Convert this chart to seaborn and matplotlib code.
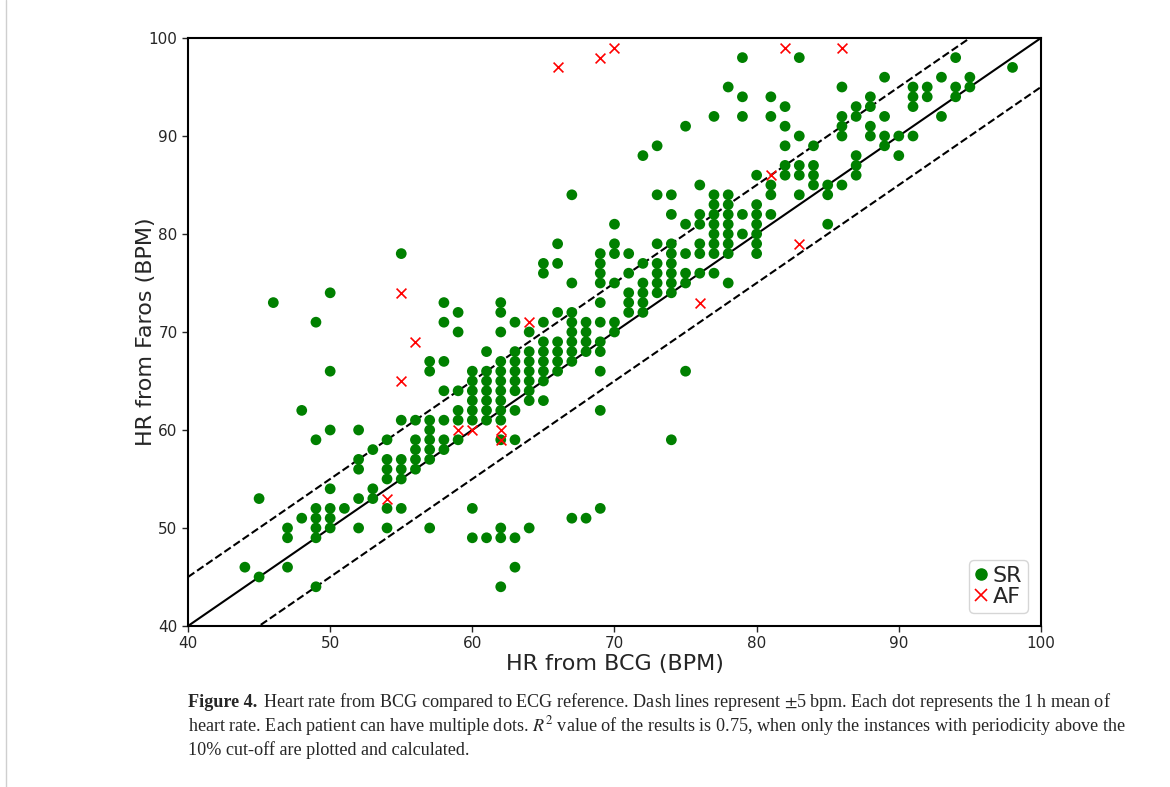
import numpy as np
import pandas as pd
import matplotlib
matplotlib.use("Agg")
import matplotlib.pyplot as plt
from matplotlib.lines import Line2D
import seaborn as sns

## HR: BCG value (x) and the Faros values found at that x
sr_bcg = [44, 45, 46, 47, 48, 49, 50, 51, 52, 53, 54, 55, 56, 57, 58, 59, 60, 61,
          62, 63, 64, 65, 66, 67, 68, 69, 70, 71, 72, 73, 74, 75, 76, 77, 78, 79,
          80, 81, 82, 83, 84, 85, 86, 87, 88, 89, 90, 91, 92, 93, 94, 95, 98]
sr_faros = [[46], [53, 45], [73], [50, 49, 46], [62, 51],
            [71, 59, 52, 51, 50, 49, 44], [74, 66, 60, 54, 52, 51, 50], [52],
            [60, 57, 56, 53, 50], [58, 54, 53], [59, 57, 56, 55, 52, 50],
            [78, 61, 57, 56, 55, 52], [61, 59, 58, 57, 56],
            [67, 66, 61, 60, 59, 58, 57, 50], [73, 71, 67, 64, 61, 59, 58],
            [72, 70, 64, 62, 61, 59], [66, 65, 64, 63, 62, 61, 52, 49],
            [68, 66, 65, 64, 63, 62, 61, 49],
            [73, 72, 70, 67, 66, 65, 64, 63, 62, 61, 59, 50, 49, 44],
            [71, 68, 67, 66, 65, 64, 62, 59, 49, 46],
            [70, 68, 67, 66, 65, 64, 63, 50],
            [77, 76, 71, 69, 68, 67, 66, 65, 63],
            [79, 77, 72, 69, 68, 67, 66],
            [84, 75, 72, 71, 70, 69, 68, 67, 51],
            [71, 70, 69, 68, 51],
            [78, 77, 76, 75, 73, 71, 69, 68, 66, 62, 52],
            [81, 79, 78, 75, 71, 70], [78, 76, 74, 73, 72],
            [88, 77, 75, 74, 73, 72], [89, 84, 79, 77, 76, 75, 74],
            [84, 82, 79, 78, 77, 76, 75, 74, 59], [91, 81, 78, 76, 75, 66],
            [85, 82, 81, 79, 78, 76], [92, 84, 83, 82, 81, 80, 79, 78, 76],
            [95, 84, 83, 82, 81, 80, 79, 78, 75], [98, 94, 92, 82, 80],
            [86, 83, 82, 81, 80, 79, 78], [94, 92, 85, 84, 82],
            [93, 91, 89, 87, 86], [98, 90, 87, 86, 84], [89, 87, 86, 85],
            [85, 84, 81], [95, 92, 91, 90, 85], [93, 92, 88, 87, 86],
            [94, 93, 91, 90], [96, 92, 90, 89], [90, 88], [95, 94, 93, 90],
            [95, 94], [96, 92], [98, 95, 94], [96, 95], [97]]

af_bcg = [54, 55, 55, 56, 59, 60, 62, 62, 64, 66, 69, 70, 76, 81, 82, 83, 86]
af_faros = [53, 74, 65, 69, 60, 60, 60, 59, 71, 97, 98, 99, 73, 86, 99, 79, 99]

rows = []
for x, ys in zip(sr_bcg, sr_faros):
    for y in ys:
        rows.append([x, y, "SR"])
for x, y in zip(af_bcg, af_faros):
    rows.append([x, y, "AF"])
df = pd.DataFrame(rows, columns=["bcg", "faros", "rhythm"])

sns.set_style("white")
plt.rcParams["font.family"] = ["DejaVu Sans"]

fig = plt.figure(figsize=(11.7, 7.87), dpi=100)
ax = fig.add_axes([0.1607, 0.2046, 0.7290, 0.7471])

ref = np.array([40, 100])
ax.plot(ref, ref, color="black", lw=1.5, zorder=1)
ax.plot(ref, ref + 5, color="black", lw=1.5, ls="--", zorder=1)
ax.plot(ref, ref - 5, color="black", lw=1.5, ls="--", zorder=1)

sns.scatterplot(data=df[df["rhythm"] == "SR"], x="bcg", y="faros", color="green",
                marker="o", s=60, edgecolor="none", ax=ax, zorder=2)
sns.scatterplot(data=df[df["rhythm"] == "AF"], x="bcg", y="faros", color="red",
                marker="x", s=50, linewidth=1.2, ax=ax, zorder=3)

ax.set_xlim(40, 100)
ax.set_ylim(40, 100)
ax.set_xticks(range(40, 101, 10))
ax.set_yticks(range(40, 101, 10))
ax.tick_params(axis="both", labelsize=11, direction="out", length=4, width=1, left=True, bottom=True)
for s in ax.spines.values():
    s.set_linewidth(1.5)
    s.set_color("black")
ax.set_xlabel("HR from BCG (BPM)", fontsize=16, labelpad=2)
ax.set_ylabel("HR from Faros (BPM)", fontsize=16)
ax.yaxis.set_label_coords(-0.038, 0.5)

handles = [Line2D([], [], ls="none", marker="o", color="green", markersize=8),
           Line2D([], [], ls="none", marker="x", color="red", markersize=8, mew=1.2)]
ax.legend(handles, ["SR", "AF"], loc="lower right", fontsize=16, handlelength=0.6,
          handletextpad=0.2, borderpad=0.25, labelspacing=0.05, borderaxespad=0.6)

# caption under the chart
serif = ["Liberation Serif", "DejaVu Serif"]
plt.rcParams["mathtext.fontset"] = "stix"
cap_size = 13.1
fig.canvas.draw()
r = fig.canvas.get_renderer()
t0 = fig.text(188 / 1170, 1 - 707 / 787, "Figure 4.", family=serif, weight="bold",
              size=cap_size, va="baseline")
bb = t0.get_window_extent(renderer=r)
fig.text((bb.x1 + 6) / 1170, 1 - 707 / 787,
         "Heart rate from BCG compared to ECG reference. Dash lines represent $\\pm$5\u2009bpm. Each dot represents the 1\u2009h mean of",
         family=serif, size=cap_size, va="baseline")
fig.text(188 / 1170, 1 - 731 / 787,
         "heart rate. Each patient can have multiple dots. $R^2$ value of the results is 0.75, when only the instances with periodicity above the",
         family=serif, size=cap_size, va="baseline")
fig.text(188 / 1170, 1 - 755 / 787,
         "10% cut-off are plotted and calculated.",
         family=serif, size=cap_size, va="baseline")

fig.add_artist(Line2D([6 / 1170, 6 / 1170], [0, 1], color="#cfcfcf", lw=1))

plt.savefig("out.png", dpi=100)
